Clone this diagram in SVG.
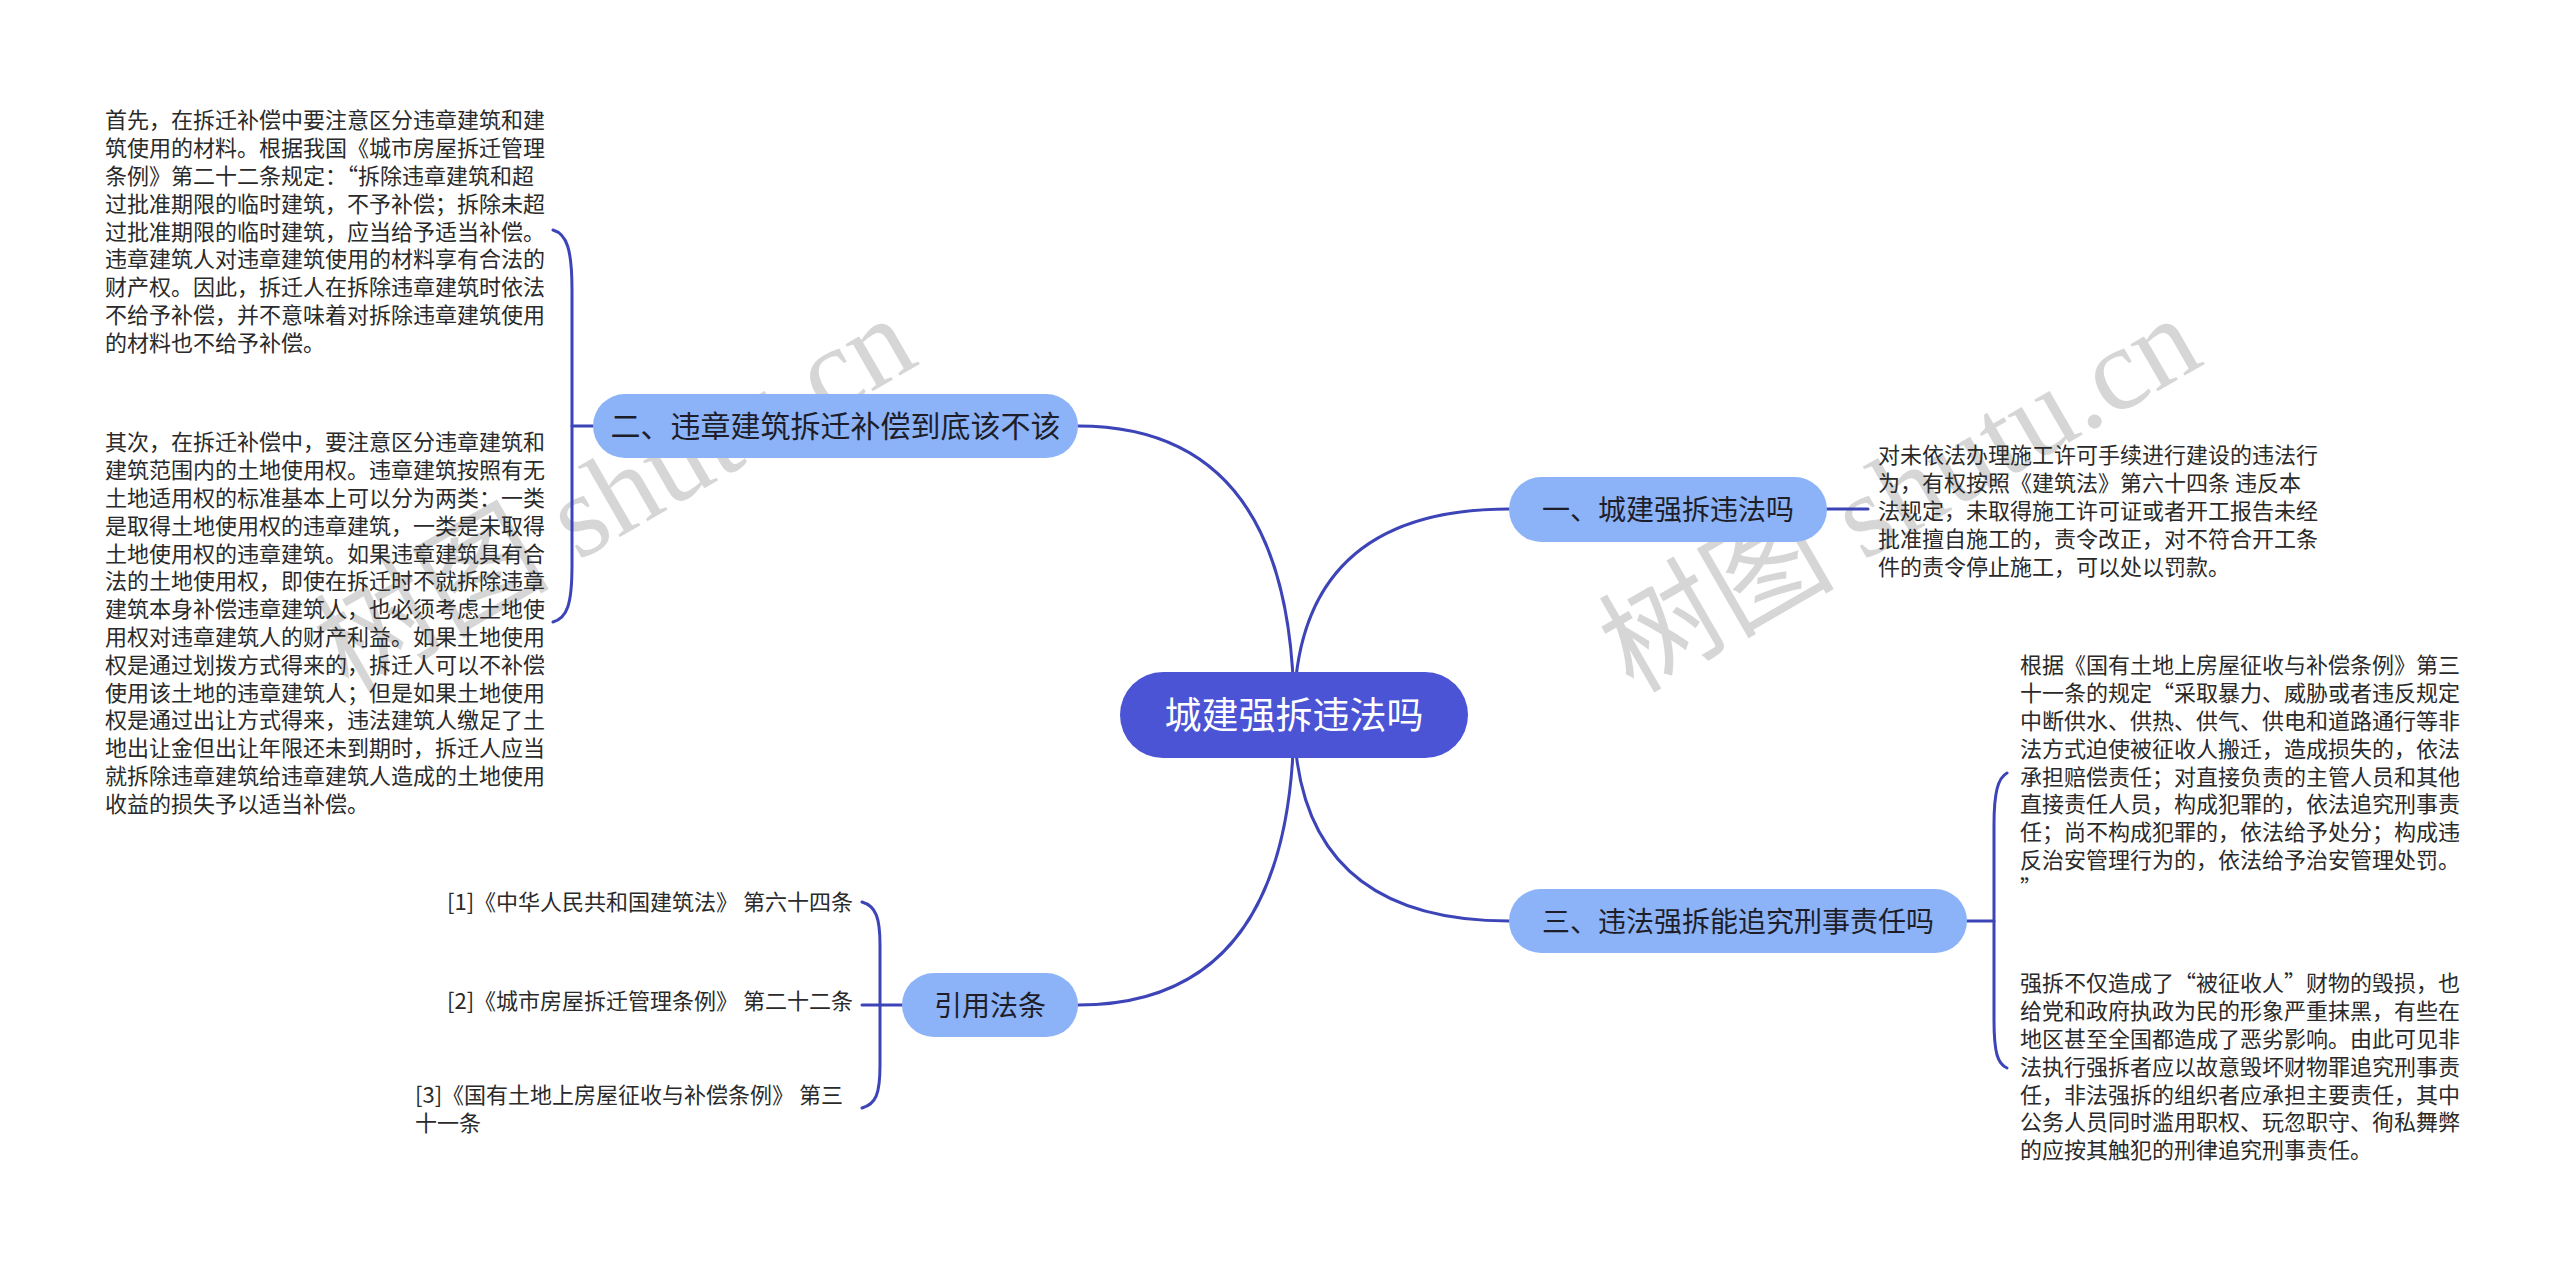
<svg xmlns="http://www.w3.org/2000/svg" width="2560" height="1271" viewBox="0 0 2560 1271">
<style>
.wm{font-family:"Liberation Serif","Noto Sans CJK SC",serif;font-size:118px;fill:#c9c9c9;opacity:0.75}
.con{fill:none;stroke:#3d44b8;stroke-width:3;stroke-linecap:round}
.sub{fill:#8cb3f7}
.root{fill:#4a54d4}
.nt{font-family:"Noto Sans CJK SC","Noto Sans",sans-serif;font-size:28px;fill:#1e1e2a;text-anchor:middle}
.rt{font-family:"Noto Sans CJK SC","Noto Sans",sans-serif;font-size:37px;fill:#ffffff;text-anchor:middle}
.tx{font-family:"Noto Sans CJK SC","Noto Sans",sans-serif;font-size:22px;fill:#2a2a2a}
</style>
<rect width="2560" height="1271" fill="#ffffff"/>
<g id="watermarks">
<text class="wm" transform="translate(348,694) rotate(-30)">树图 shutu.cn</text>
<text class="wm" transform="translate(1633,694) rotate(-30)">树图 shutu.cn</text>
</g>
<g id="connectors">
<path class="con" d="M1294,715 Q1294,426 1078,426"/>
<path class="con" d="M1294,715 Q1294,509 1509,509"/>
<path class="con" d="M1294,715 Q1294,921 1509,921"/>
<path class="con" d="M1294,715 Q1294,1005 1078,1005"/>
<path class="con" d="M593,426 L572,426"/>
<path class="con" d="M553,230 C567,234 572,250 572,290 L572,565 C572,605 567,618 553,622"/>
<path class="con" d="M1827,509 L1868,509"/>
<path class="con" d="M1967,921 L1994,921"/>
<path class="con" d="M2007,773 C1998,778 1994,792 1994,825 L1994,1020 C1994,1054 1998,1064 2007,1068"/>
<path class="con" d="M902,1005 L862,1005"/>
<path class="con" d="M862,902 C876,906 880,918 880,945 L880,1065 C880,1094 876,1104 862,1108"/>
</g>
<g id="root">
<rect class="root" x="1120" y="672" width="348" height="86" rx="43"/>
<text class="rt" x="1294" y="729">城建强拆违法吗</text>
</g>
<g id="node-2">
<rect class="sub" x="593" y="394" width="485" height="64" rx="32"/>
<text class="nt" x="835.5" y="437" style="font-size:30px">二、违章建筑拆迁补偿到底该不该</text>
</g>
<g id="node-1">
<rect class="sub" x="1509" y="477" width="318" height="65" rx="32.5"/>
<text class="nt" x="1668" y="520">一、城建强拆违法吗</text>
</g>
<g id="node-3">
<rect class="sub" x="1509" y="889" width="458" height="64" rx="32"/>
<text class="nt" x="1738" y="932">三、违法强拆能追究刑事责任吗</text>
</g>
<g id="node-cite">
<rect class="sub" x="902" y="973" width="176" height="64" rx="32"/>
<text class="nt" x="990" y="1016">引用法条</text>
</g>
<g id="leaf-2a">
<text class="tx" x="105" y="128.4">
<tspan x="105">首先，在拆迁补偿中要注意区分违章建筑和建</tspan>
<tspan x="105" dy="27.8">筑使用的材料。根据我国《城市房屋拆迁管理</tspan>
<tspan x="105" dy="27.8">条例》第二十二条规定：“拆除违章建筑和超</tspan>
<tspan x="105" dy="27.8">过批准期限的临时建筑，不予补偿；拆除未超</tspan>
<tspan x="105" dy="27.8">过批准期限的临时建筑，应当给予适当补偿。</tspan>
<tspan x="105" dy="27.8">违章建筑人对违章建筑使用的材料享有合法的</tspan>
<tspan x="105" dy="27.8">财产权。因此，拆迁人在拆除违章建筑时依法</tspan>
<tspan x="105" dy="27.8">不给予补偿，并不意味着对拆除违章建筑使用</tspan>
<tspan x="105" dy="27.8">的材料也不给予补偿。</tspan>
</text>
</g>
<g id="leaf-2b">
<text class="tx" x="105" y="450.4">
<tspan x="105">其次，在拆迁补偿中，要注意区分违章建筑和</tspan>
<tspan x="105" dy="27.8">建筑范围内的土地使用权。违章建筑按照有无</tspan>
<tspan x="105" dy="27.8">土地适用权的标准基本上可以分为两类：一类</tspan>
<tspan x="105" dy="27.8">是取得土地使用权的违章建筑，一类是未取得</tspan>
<tspan x="105" dy="27.8">土地使用权的违章建筑。如果违章建筑具有合</tspan>
<tspan x="105" dy="27.8">法的土地使用权，即使在拆迁时不就拆除违章</tspan>
<tspan x="105" dy="27.8">建筑本身补偿违章建筑人，也必须考虑土地使</tspan>
<tspan x="105" dy="27.8">用权对违章建筑人的财产利益。如果土地使用</tspan>
<tspan x="105" dy="27.8">权是通过划拨方式得来的，拆迁人可以不补偿</tspan>
<tspan x="105" dy="27.8">使用该土地的违章建筑人；但是如果土地使用</tspan>
<tspan x="105" dy="27.8">权是通过出让方式得来，违法建筑人缴足了土</tspan>
<tspan x="105" dy="27.8">地出让金但出让年限还未到期时，拆迁人应当</tspan>
<tspan x="105" dy="27.8">就拆除违章建筑给违章建筑人造成的土地使用</tspan>
<tspan x="105" dy="27.8">收益的损失予以适当补偿。</tspan>
</text>
</g>
<g id="leaf-1">
<text class="tx" x="1878" y="463.4">
<tspan x="1878">对未依法办理施工许可手续进行建设的违法行</tspan>
<tspan x="1878" dy="27.8">为，有权按照《建筑法》第六十四条 违反本</tspan>
<tspan x="1878" dy="27.8">法规定，未取得施工许可证或者开工报告未经</tspan>
<tspan x="1878" dy="27.8">批准擅自施工的，责令改正，对不符合开工条</tspan>
<tspan x="1878" dy="27.8">件的责令停止施工，可以处以罚款。</tspan>
</text>
</g>
<g id="leaf-3a">
<text class="tx" x="2020" y="673.4">
<tspan x="2020">根据《国有土地上房屋征收与补偿条例》第三</tspan>
<tspan x="2020" dy="27.8">十一条的规定“采取暴力、威胁或者违反规定</tspan>
<tspan x="2020" dy="27.8">中断供水、供热、供气、供电和道路通行等非</tspan>
<tspan x="2020" dy="27.8">法方式迫使被征收人搬迁，造成损失的，依法</tspan>
<tspan x="2020" dy="27.8">承担赔偿责任；对直接负责的主管人员和其他</tspan>
<tspan x="2020" dy="27.8">直接责任人员，构成犯罪的，依法追究刑事责</tspan>
<tspan x="2020" dy="27.8">任；尚不构成犯罪的，依法给予处分；构成违</tspan>
<tspan x="2020" dy="27.8">反治安管理行为的，依法给予治安管理处罚。</tspan>
<tspan x="2020" dy="27.8">”</tspan>
</text>
</g>
<g id="leaf-3b">
<text class="tx" x="2020" y="991.4">
<tspan x="2020">强拆不仅造成了“被征收人”财物的毁损，也</tspan>
<tspan x="2020" dy="27.8">给党和政府执政为民的形象严重抹黑，有些在</tspan>
<tspan x="2020" dy="27.8">地区甚至全国都造成了恶劣影响。由此可见非</tspan>
<tspan x="2020" dy="27.8">法执行强拆者应以故意毁坏财物罪追究刑事责</tspan>
<tspan x="2020" dy="27.8">任，非法强拆的组织者应承担主要责任，其中</tspan>
<tspan x="2020" dy="27.8">公务人员同时滥用职权、玩忽职守、徇私舞弊</tspan>
<tspan x="2020" dy="27.8">的应按其触犯的刑律追究刑事责任。</tspan>
</text>
</g>
<g id="cite-1">
<text class="tx" x="447" y="910">[1]《中华人民共和国建筑法》 第六十四条</text>
</g>
<g id="cite-2">
<text class="tx" x="447" y="1009">[2]《城市房屋拆迁管理条例》 第二十二条</text>
</g>
<g id="cite-3">
<text class="tx" x="415" y="1103">
<tspan x="415">[3]《国有土地上房屋征收与补偿条例》 第三</tspan>
<tspan x="415" dy="27.8">十一条</tspan>
</text>
</g>
</svg>
